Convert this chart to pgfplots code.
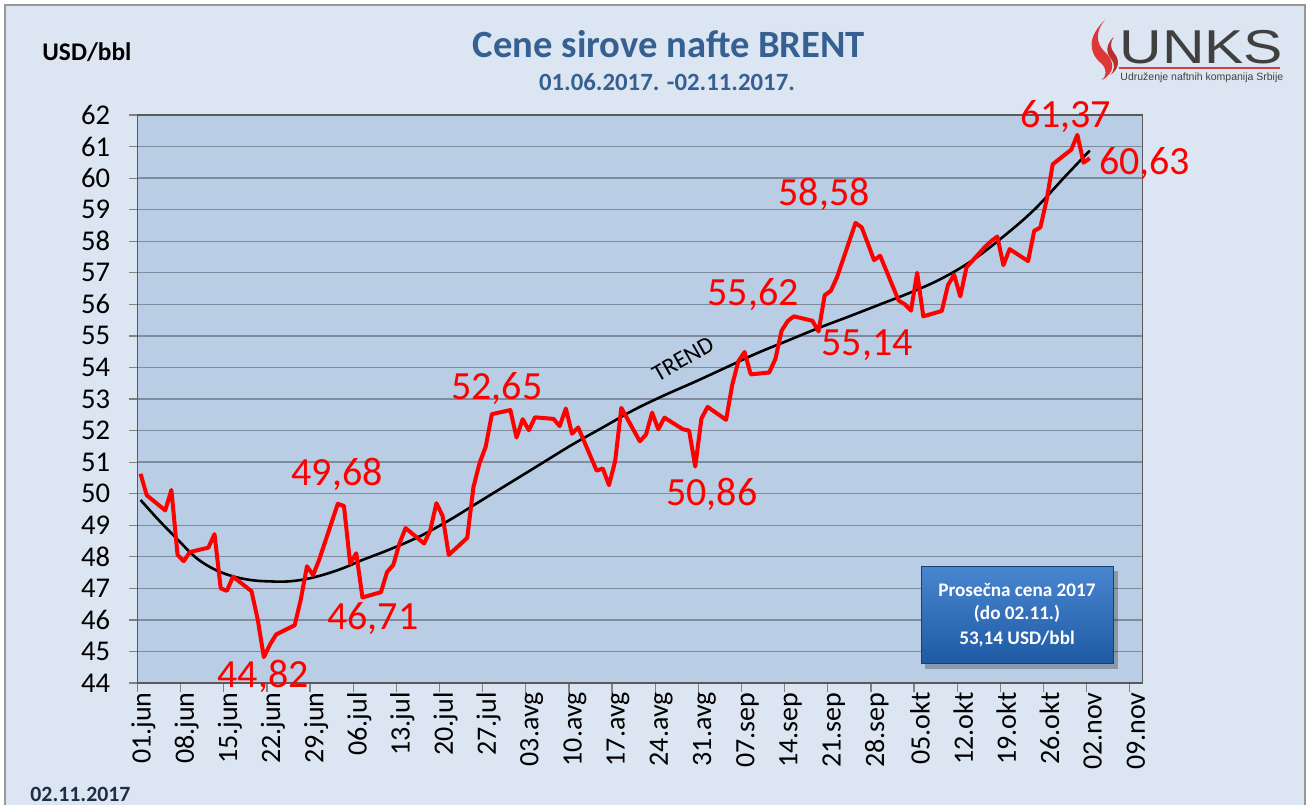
\documentclass[border=0pt]{standalone}
\usepackage{fontspec}
\setmainfont{Carlito}
\newfontfamily\logofont{Liberation Sans}
\usepackage{pgfplots}
\pgfplotsset{compat=1.18}
\definecolor{pagebg}{RGB}{220,230,242}
\definecolor{plotbg}{RGB}{185,205,228}
\definecolor{gridc}{RGB}{128,140,158}
\definecolor{titleblue}{RGB}{55,96,146}
\definecolor{brentred}{RGB}{255,0,0}
\definecolor{logored}{RGB}{222,55,55}
\definecolor{logogray}{RGB}{64,64,64}
\definecolor{boxtop}{RGB}{74,134,207}
\definecolor{boxbot}{RGB}{31,90,165}
\definecolor{datedark}{RGB}{31,45,70}
\begin{document}
\begin{tikzpicture}
\path[use as bounding box] (0,0) rectangle (654.5pt,-402pt);
\fill[white] (0,0) rectangle (654.5pt,-402pt);
\begin{scope}[x=0.5pt,y=-0.5pt]
\fill[pagebg] (5,5) rectangle (1305,806);
\draw[gray!80, line width=0.6pt] (5,806) -- (5,5) -- (1305,5) -- (1305,806);
\end{scope}
\begin{axis}[
  at={(68.75pt,-341.5pt)}, anchor=south west,
  scale only axis, width=502.6pt, height=284pt,
  xmin=-0.5, xmax=162.6, ymin=44, ymax=62,
  ytick={44,45,...,62},
  xtick={-0.5,6.5,...,160.5},
  xticklabels={01.jun,08.jun,15.jun,22.jun,29.jun,06.jul,13.jul,20.jul,27.jul,03.avg,10.avg,17.avg,24.avg,31.avg,07.sep,14.sep,21.sep,28.sep,05.okt,12.okt,19.okt,26.okt,02.nov,09.nov},
  /pgf/number format/assume math mode=true,
  axis background/.style={fill=plotbg},
  ymajorgrids, grid style={gridc, line width=0.7pt},
  axis line style={gray!70!black, line width=0.6pt},
  tick align=outside, major tick length=4.5pt,
  tick style={gray, line width=0.6pt},
  xtick pos=bottom, ytick pos=left,
  yticklabel style={font=\fontsize{14.3}{14}\selectfont, anchor=east, inner sep=0pt, xshift=-9pt},
  xticklabel style={font=\fontsize{14}{14}\selectfont, rotate=90, anchor=east, inner sep=0pt, yshift=-3pt},
  clip=false,
]
\addplot[black, line width=1.3pt, smooth, tension=0.6] coordinates {
(0,49.80) (3,49.15) (6,48.55) (9,47.97) (12,47.60) (15,47.38) (18,47.26) (21,47.22)
(24,47.22) (27,47.30) (30,47.45) (33,47.65) (36,47.90) (40,48.20) (45,48.62) (50,49.15)
(55,49.75) (60,50.35) (65,50.95) (70,51.55) (75,52.10) (80,52.65) (85,53.12) (90,53.55)
(95,54.0) (100,54.45) (105,54.85) (110,55.25) (115,55.62) (120,56.00) (125,56.38)
(130,56.82) (135,57.40) (140,58.15) (145,59.0) (150,60.05) (154,60.87)
};
\addplot[brentred, line width=2pt, line join=round] coordinates {
(0,50.63) (1,49.95) (4,49.47) (5,50.12) (6,48.06) (7,47.86) (8,48.15) (11,48.29)
(12,48.72) (13,47.00) (14,46.92) (15,47.37) (18,46.91) (19,46.02) (20,44.82) (21,45.22)
(22,45.54) (25,45.83) (26,46.65) (27,47.70) (28,47.42) (29,47.92) (32,49.68) (33,49.61)
(34,47.79) (35,48.11) (36,46.71) (39,46.88) (40,47.52) (41,47.74) (42,48.42) (43,48.91)
(46,48.42) (47,48.84) (48,49.70) (49,49.30) (50,48.06) (53,48.60) (54,50.20) (55,50.97)
(56,51.49) (57,52.52) (60,52.65) (61,51.78) (62,52.36) (63,52.01) (64,52.42) (67,52.37)
(68,52.14) (69,52.70) (70,51.90) (71,52.10) (74,50.73) (75,50.80) (76,50.27) (77,51.03)
(78,52.72) (81,51.66) (82,51.87) (83,52.57) (84,52.04) (85,52.41) (88,52.04) (89,52.00)
(90,50.86) (91,52.38) (92,52.75) (95,52.34) (96,53.45) (97,54.20) (98,54.49) (99,53.78)
(102,53.84) (103,54.27) (104,55.16) (105,55.47) (106,55.62) (109,55.48) (110,55.14)
(111,56.29) (112,56.43) (113,56.86) (116,58.58) (117,58.44) (118,57.93) (119,57.40)
(120,57.54) (123,56.12) (124,56.00) (125,55.80) (126,57.00) (127,55.62) (130,55.79)
(131,56.61) (132,56.94) (133,56.25) (134,57.17) (137,57.82) (138,58.00) (139,58.15)
(140,57.24) (141,57.75) (144,57.37) (145,58.33) (146,58.44) (147,59.30) (148,60.44)
(151,60.90) (152,61.37) (153,60.49) (154,60.63)
};
\tikzset{redlab/.style={brentred, anchor=base, inner sep=0pt, font=\fontsize{20}{20}\selectfont}}
\node[redlab] at (axis cs:31.9,50.27) {49,68};
\node[redlab] at (axis cs:19.9,43.87) {44,82};
\node[redlab] at (axis cs:37.7,45.71) {46,71};
\node[redlab] at (axis cs:57.8,52.97) {52,65};
\node[redlab] at (axis cs:92.7,49.64) {50,86};
\node[redlab] at (axis cs:99.4,55.95) {55,62};
\node[redlab] at (axis cs:110.9,59.12) {58,58};
\node[redlab] at (axis cs:117.9,54.39) {55,14};
\node[redlab] at (axis cs:150.1,61.59) {61,37};
\node[redlab] at (axis cs:162.9,60.10) {60,63};
\node[rotate=29.6, font=\fontsize{12}{12}\selectfont, inner sep=0pt] at (axis cs:88.0,54.27) {TREND};
\end{axis}
\begin{scope}[x=0.5pt,y=-0.5pt]
% info box
\fill[black, opacity=0.25] (925,571) rectangle (1118,669);
\shade[top color=boxtop, bottom color=boxbot, draw=boxbot!70!black, line width=0.4pt] (921,566) rectangle (1113,663);
\node[white, anchor=base, inner sep=0pt, font=\bfseries\fontsize{9.6}{12}\selectfont] at (1017,596) {Prosečna cena 2017};
\node[white, anchor=base, inner sep=0pt, font=\bfseries\fontsize{9.6}{12}\selectfont] at (1017,619) {(do 02.11.)};
\node[white, anchor=base, inner sep=0pt, font=\bfseries\fontsize{9.6}{12}\selectfont] at (1017,644) {53,14 USD/bbl};
% titles
\node[titleblue, anchor=base, inner sep=0pt, font=\bfseries\fontsize{19.3}{20}\selectfont] at (669,57) {Cene sirove nafte BRENT};
\node[titleblue, anchor=base, inner sep=0pt, font=\bfseries\fontsize{12.4}{14}\selectfont] at (667,90) {01.06.2017. -02.11.2017.};
\node[black, anchor=base west, inner sep=0pt, font=\bfseries\fontsize{12.7}{14}\selectfont] at (42,60) {USD/bbl};
\node[datedark, anchor=base west, inner sep=0pt, font=\bfseries\fontsize{10.9}{12}\selectfont] at (30,801) {02.11.2017};
% logo
\begin{scope}[shift={(1090,20)}, xscale=0.74, yscale=0.76, shift={(-1088,-18)}]
\fill[logored] (1108,18) .. controls (1085,40) and (1085,60) .. (1103,75)
  .. controls (1112,83) and (1110,92) .. (1104,97)
  .. controls (1122,88) and (1122,72) .. (1108,60)
  .. controls (1095,48) and (1096,32) .. (1108,18) -- cycle;
\fill[logored!85!black] (1120,40) .. controls (1108,52) and (1110,62) .. (1117,70)
  .. controls (1123,78) and (1120,85) .. (1116,90)
  .. controls (1128,82) and (1128,70) .. (1121,62)
  .. controls (1115,55) and (1115,48) .. (1120,40) -- cycle;
\end{scope}
\node[logogray, anchor=base west, inner sep=0pt, xscale=1.24, font=\logofont\fontsize{23.75}{24}\selectfont] at (1119,63) {UNKS};
\draw[logored, line width=1pt] (1119,68) -- (1280,68);
\node[logogray, anchor=base west, inner sep=0pt, font=\logofont\fontsize{5.25}{6}\selectfont] at (1120,80) {Udruženje naftnih kompanija Srbije};
\end{scope}
\end{tikzpicture}
\end{document}
